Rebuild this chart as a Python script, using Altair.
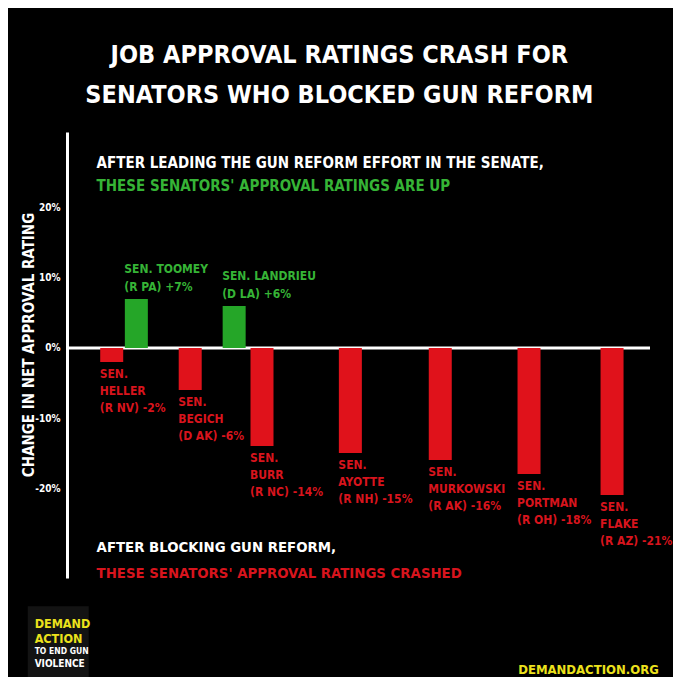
import altair as alt
import pandas as pd

# ---- data ----
senators = ["HELLER", "TOOMEY", "BEGICH", "LANDRIEU", "BURR", "AYOTTE", "MURKOWSKI", "PORTMAN", "FLAKE"]
party_state = ["R NV", "R PA", "D AK", "D LA", "R NC", "R NH", "R AK", "R OH", "R AZ"]
change_pct = [-2, 7, -6, 6, -14, -15, -16, -18, -21]
y_ticks = [-20, -10, 0, 10, 20]

# ---- layout (horizontal slot of each bar, in axis units 0..100) ----
x_slot = [6.93, 11.23, 20.63, 28.30, 33.16, 48.58, 64.27, 79.76, 94.25]

FONT = "DejaVu Sans Condensed, Roboto Condensed, Roboto, sans-serif"
GREEN_BAR = "#25a628"
RED_BAR = "#e0121b"
GREEN_TXT = "#36b436"
RED_TXT = "#d8141d"
YELLOW = "#ece21c"

rows = []
for n, p, v, s in zip(senators, party_state, change_pct, x_slot):
    pct = "(%s) %s%d%%" % (p, "+" if v > 0 else "-", abs(v))
    rows.append({
        "name": n, "value": v, "slot": s, "zero": 0,
        "bar_color": GREEN_BAR if v > 0 else RED_BAR,
        "l1": ("SEN. " + n) if v > 0 else "SEN.",
        "l2": pct if v > 0 else n,
        "l3": "" if v > 0 else pct,
    })
df = pd.DataFrame(rows)
pos_df = df[df["value"] > 0]
neg_df = df[df["value"] < 0]

xs = alt.Scale(domain=[0, 100], nice=False, zero=False)
ys = alt.Scale(domain=[-32.857, 30.857], nice=False, zero=False)

y_axis = alt.Axis(
    values=y_ticks,
    labelExpr="datum.value + '%'",
    title=None,
    labelFont=FONT,
    labelFontSize=10,
    labelFontWeight="bold",
    labelColor="white",
    labelPadding=7,
    ticks=False,
    grid=False,
    domainColor="white",
    domainWidth=3,
    zindex=1,
)


def X(f):
    return alt.X(f, type="quantitative", scale=xs, axis=None)


def Y(f):
    return alt.Y(f, type="quantitative", scale=ys, axis=y_axis)


def text_layer(data, field, color, size, dy=0, baseline="alphabetic", align="left", dx=0, angle=0):
    return alt.Chart(data).mark_text(
        align=align, baseline=baseline, font=FONT, fontWeight="bold",
        fontSize=size, color=color, dy=dy, dx=dx, angle=angle,
    ).encode(x=X("x"), y=Y("y"), text=alt.Text(field, type="nominal"))


def note(text, x, y, color, size, align="left", baseline="alphabetic", angle=0):
    d = pd.DataFrame({"x": [x], "y": [y], "t": [text]})
    return text_layer(d, "t", color, size, align=align, baseline=baseline, angle=angle)


canvas = pd.DataFrame({"x": [-11.15], "x2": [104.6], "y": [48.43], "y2": [-47.14]})
logo = pd.DataFrame({"x": [-7.72], "x2": [2.92], "y": [-36.9], "y2": [-47.5]})

backdrop = alt.Chart(canvas).mark_rect(color="black").encode(
    x=X("x"), x2="x2:Q", y=Y("y"), y2="y2:Q"
)
logo_box = alt.Chart(logo).mark_rect(color="#131313").encode(
    x=X("x"), x2="x2:Q", y=Y("y"), y2="y2:Q"
)

bars = alt.Chart(df).mark_bar(size=23).encode(
    x=X("slot"),
    y=Y("value"),
    y2="zero:Q",
    color=alt.Color("bar_color:N", scale=None),
)

zero_line = alt.Chart(pd.DataFrame({"y": [0]})).mark_rule(color="white", strokeWidth=3).encode(y=Y("y"))


def bar_text(data, field, color, dy, baseline):
    return alt.Chart(data).mark_text(
        align="left", baseline=baseline, font=FONT, fontWeight="bold",
        fontSize=12, color=color, dx=-12, dy=dy,
    ).encode(x=X("slot"), y=Y("value"), text=alt.Text(field, type="nominal"))


labels = [
    bar_text(pos_df, "l1", GREEN_TXT, -23, "bottom"),
    bar_text(pos_df, "l2", GREEN_TXT, -5, "bottom"),
    bar_text(neg_df, "l1", RED_TXT, 7, "top"),
    bar_text(neg_df, "l2", RED_TXT, 24, "top"),
    bar_text(neg_df, "l3", RED_TXT, 41, "top"),
]

notes = [
    note("CHANGE IN NET APPROVAL RATING", -7.55, 0.43, "white", 15,
         align="center", baseline="middle", angle=270),
    note("JOB APPROVAL RATINGS CRASH FOR", 46.66, 40.71, "white", 25, align="center"),
    note("SENATORS WHO BLOCKED GUN REFORM", 46.66, 35.0, "white", 25, align="center"),
    note("AFTER LEADING THE GUN REFORM EFFORT IN THE SENATE,", 4.29, 25.71, "white", 15),
    note("THESE SENATORS' APPROVAL RATINGS ARE UP", 4.29, 22.43, GREEN_TXT, 15),
    note("AFTER BLOCKING GUN REFORM,", 4.29, -29.2, "white", 14.8),
    note("THESE SENATORS' APPROVAL RATINGS CRASHED", 4.29, -32.8, RED_TXT, 14.8),
    note("DEMAND", -6.52, -40.0, YELLOW, 12.5),
    note("ACTION", -6.52, -42.14, YELLOW, 12.5),
    note("TO END GUN", -6.52, -43.71, "white", 8.5),
    note("VIOLENCE", -6.52, -45.57, "white", 10),
    note("DEMANDACTION.ORG", 102.4, -46.57, YELLOW, 13, align="right"),
]

chart = alt.layer(backdrop, logo_box, zero_line, bars, *labels, *notes).properties(
    width=583,
    height=446,
    padding=0,
    background="black",
).configure_view(strokeWidth=0)

chart.save("out.html", embed_options={"renderer": "svg", "actions": False})
